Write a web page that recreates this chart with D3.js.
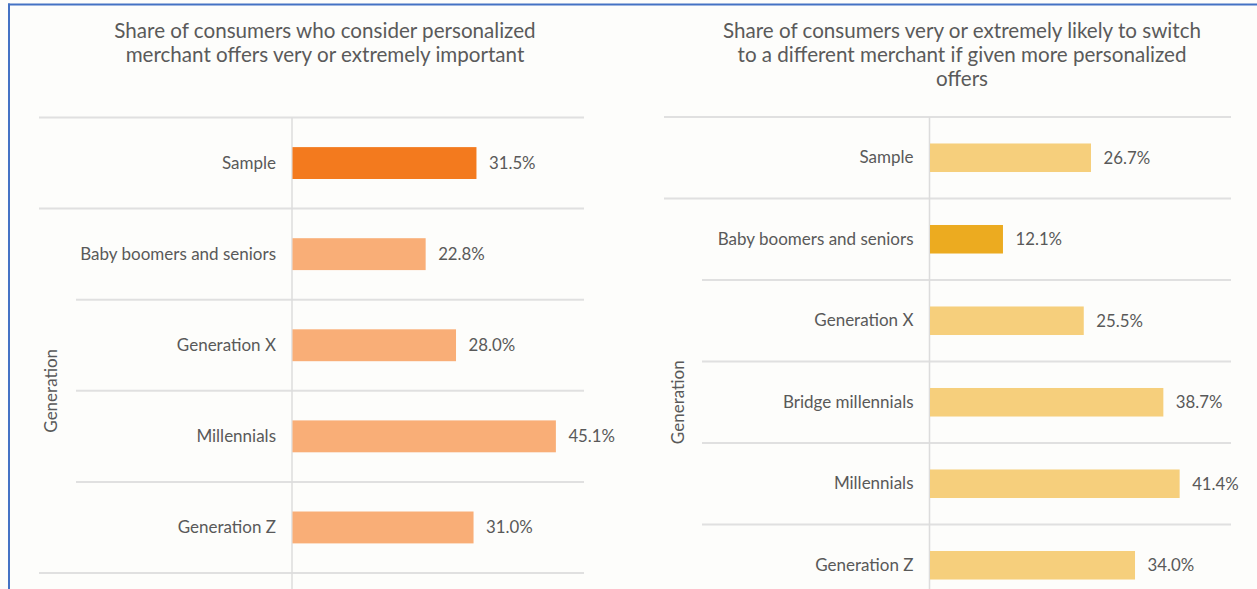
<!DOCTYPE html>
<html>
<head>
<meta charset="utf-8">
<script src="https://cdn.jsdelivr.net/npm/d3@7"></script>
<style>
  html, body { margin: 0; padding: 0; background: #fdfdfb; }
  svg { display: block; }
  text { font-family: Lato, "Open Sans", sans-serif; fill: #595959; }
</style>
</head>
<body>
<svg id="chart" width="1257" height="589"></svg>
<script>
// Share of consumers who consider personalized offers very/extremely important
const leftCategories = ["Sample", "Baby boomers and seniors", "Generation X", "Millennials", "Generation Z"];
const leftValues = [31.5, 22.8, 28.0, 45.1, 31.0];
const leftColors = ["#f37a1e", "#f9ae77", "#f9ae77", "#f9ae77", "#f9ae77"];
const leftTitle = ["Share of consumers who consider personalized",
                   "merchant offers very or extremely important"];

// Share of consumers likely to switch merchants for more personalized offers
const rightCategories = ["Sample", "Baby boomers and seniors", "Generation X", "Bridge millennials", "Millennials", "Generation Z"];
const rightValues = [26.7, 12.1, 25.5, 38.7, 41.4, 34.0];
const rightColors = ["#f6cf7c", "#ecab20", "#f6cf7c", "#f6cf7c", "#f6cf7c", "#f6cf7c"];
const rightTitle = ["Share of consumers very or extremely likely to switch",
                    "to a different merchant if given more personalized",
                    "offers"];

const groupLabel = "Generation";
const xDomain = [0, 50];

const svg = d3.select("#chart");

// frame lines along the top and left edges
svg.append("line").attr("x1", 8).attr("x2", 1257).attr("y1", 4.5).attr("y2", 4.5)
  .attr("stroke", "#4472c4").attr("stroke-width", 2);
svg.append("line").attr("x1", 9).attr("x2", 9).attr("y1", 3.5).attr("y2", 589)
  .attr("stroke", "#4472c4").attr("stroke-width", 2);

function drawPanel(opts) {
  const g = svg.append("g");
  const { cats, vals, colors, title } = opts;

  const x = d3.scaleLinear().domain(xDomain).range([opts.axisX, opts.rightX]);
  const y = d3.scaleBand().domain(cats)
    .range([opts.top, opts.top + opts.step * cats.length])
    .paddingInner(0.65).paddingOuter(0.325);
  const step = y.step();

  // title
  g.append("text")
    .attr("text-anchor", "middle")
    .style("font-size", "20.6px")
    .style("fill", "#5a5a5a")
    .selectAll("tspan").data(title).join("tspan")
    .attr("x", opts.titleX)
    .attr("y", (d, i) => opts.titleY + i * 24)
    .text(d => d);

  // row separators: full width around "Sample" and at the bottom, inset inside the group
  const bounds = d3.range(cats.length + 1);
  g.selectAll("line.sep").data(bounds).join("line")
    .attr("class", "sep")
    .attr("x1", i => (i <= 1 || i === cats.length) ? opts.leftX : opts.innerX)
    .attr("x2", opts.rightX)
    .attr("y1", i => opts.top + i * step)
    .attr("y2", i => opts.top + i * step)
    .attr("stroke", "#e0e0e0").attr("stroke-width", 2);

  // vertical baseline
  g.append("line")
    .attr("x1", x(0)).attr("x2", x(0))
    .attr("y1", opts.top).attr("y2", 589)
    .attr("stroke", "#dcdcdc").attr("stroke-width", 1.5);

  // bars
  g.selectAll("rect.bar").data(cats).join("rect")
    .attr("class", "bar")
    .attr("x", x(0) + 0.5)
    .attr("y", d => y(d))
    .attr("width", (d, i) => x(vals[i]) - x(0))
    .attr("height", y.bandwidth())
    .attr("fill", (d, i) => colors[i]);

  // value labels
  g.selectAll("text.val").data(cats).join("text")
    .attr("class", "val")
    .attr("x", (d, i) => x(vals[i]) + 13)
    .attr("y", d => y(d) + y.bandwidth() / 2)
    .attr("dy", "0.35em")
    .style("font-size", "16.8px")
    .text((d, i) => vals[i].toFixed(1) + "%");

  // category axis
  const axis = g.append("g")
    .attr("transform", `translate(${x(0)},0)`)
    .call(d3.axisLeft(y).tickSize(0).tickPadding(16));
  axis.select(".domain").remove();
  axis.selectAll("text")
    .style("font-size", "17px")
    .style("font-family", "Lato, sans-serif")
    .attr("fill", "#595959");

  // group label
  const gy = opts.top + step * (1 + (cats.length - 1) / 2);
  g.append("text")
    .attr("transform", `translate(${opts.groupLabelX},${gy}) rotate(-90)`)
    .attr("text-anchor", "middle")
    .attr("dy", "0.35em")
    .style("font-size", "17px")
    .text(groupLabel);
}

drawPanel({
  cats: leftCategories, vals: leftValues, colors: leftColors, title: leftTitle,
  top: 117.5, step: 91.1, leftX: 39, innerX: 76, axisX: 292, rightX: 584,
  titleX: 325, titleY: 37.5, groupLabelX: 51
});

drawPanel({
  cats: rightCategories, vals: rightValues, colors: rightColors, title: rightTitle,
  top: 117, step: 81.5, leftX: 664, innerX: 702, axisX: 929.5, rightX: 1231,
  titleX: 962, titleY: 37.5, groupLabelX: 678
});
</script>
</body>
</html>
